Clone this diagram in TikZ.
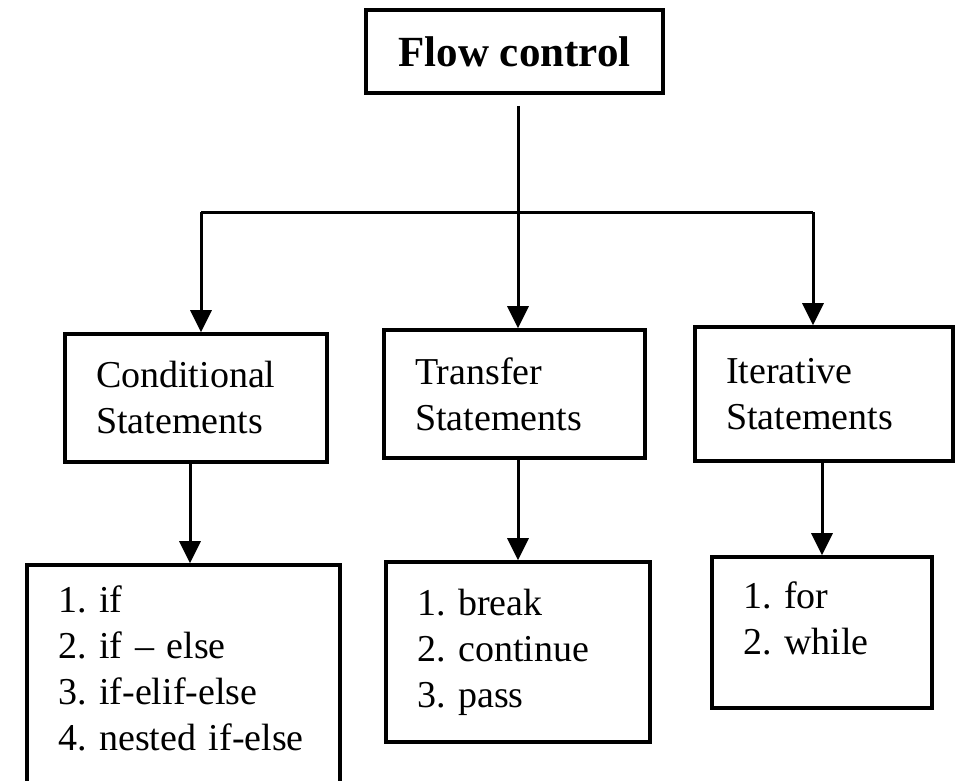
\documentclass[tikz,border=0pt]{standalone}
\usepackage{fontspec}
\setmainfont{Liberation Serif}
\usetikzlibrary{arrows.meta}

\tikzset{
  box/.style={draw, line width=1.8pt, inner xsep=15.5pt, inner ysep=0pt, align=left,
    font=\fontsize{19}{23}\selectfont\frenchspacing},
  link/.style={line width=1.5pt},
  arrow/.style={link, -{Triangle[length=11pt,width=10.5pt]}},
}
\newcommand{\lowpad}[1]{\rule[-#1]{0pt}{0pt}}

\begin{document}
\begin{tikzpicture}[x=0.5pt,y=-0.5pt]
\clip (0,0) rectangle (964,781);

% top box
\node[draw, line width=1.8pt, minimum width=148.5pt, minimum height=41.5pt,
  font=\fontsize{21.5}{26}\selectfont\bfseries] (flow) at (514.5,51.5) {Flow control};

% kinds of statements
\node[box, minimum width=131pt, minimum height=64pt, text width=100pt] (cond) at (196,398) {Conditional\\Statements};
\node[box, minimum width=130.5pt, minimum height=64pt, text width=99.5pt] (trans) at (514.5,394) {Transfer\\Statements};
\node[box, minimum width=129pt, minimum height=67pt, text width=98pt] (iter) at (824,394) {Iterative\\Statements};

% lists
\node[box, minimum width=156.5pt, minimum height=117.5pt, text width=125.5pt] (condlist) at (183.5,682.5)
  {1. if\\2. if – else\\3. if-elif-else\\4. nested if-else\lowpad{14.5pt}};
\node[box, minimum width=132pt, minimum height=90pt, text width=101pt] (translist) at (518,652)
  {1. break\\2. continue\\3. pass};
\node[box, minimum width=110pt, minimum height=75.5pt, text width=79pt] (iterlist) at (822,632.5)
  {1. for\\2. while\lowpad{14pt}};

% connectors
\coordinate (barL) at (201,212);
\coordinate (barR) at (813,212);
\draw[link] (barL) -- (barR);
\draw[arrow, shorten <=5.5pt] ([xshift=1.75pt]flow.south) -- ([xshift=1.75pt]trans.north);
\draw[arrow] (barL) -- (barL |- cond.north);
\draw[arrow] (barR) -- (barR |- iter.north);

\draw[arrow] ([xshift=-3pt]cond.south) -- ([xshift=-3pt]cond.south |- condlist.north);
\draw[arrow] (translist.north |- trans.south) -- (translist.north);
\draw[arrow] (iterlist.north |- iter.south) -- (iterlist.north);

\end{tikzpicture}
\end{document}
